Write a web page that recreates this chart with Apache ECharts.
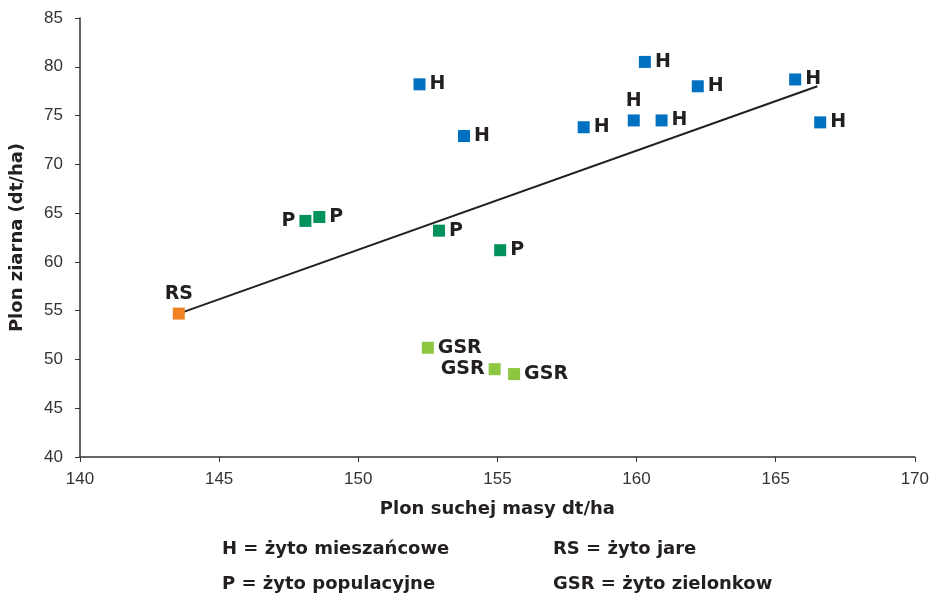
<!DOCTYPE html>
<html><head><meta charset="utf-8">
<script src="https://cdn.jsdelivr.net/npm/echarts@6/dist/echarts.min.js"></script>
<style>html,body{margin:0;padding:0;background:#fff}#c{width:932px;height:597px}</style>
</head><body><div id="c"></div>
<script>
// H = żyto mieszańcowe
const hX = [152.2, 153.8, 160.3, 162.2, 165.7, 166.6, 158.1, 159.9, 160.9];
const hY = [78.2, 72.9, 80.5, 78.0, 78.7, 74.3, 73.8, 74.5, 74.5];
const hPos = ['right','right','right','right','right','right','right','top','right'];
// P = żyto populacyjne
const pX = [148.1, 148.6, 152.9, 155.1];
const pY = [64.2, 64.6, 63.2, 61.2];
const pPos = ['left','right','right','right'];
// RS = żyto jare
const rsX = [143.55];
const rsY = [54.7];
const rsPos = ['top'];
// GSR = żyto zielonkowe
const gX = [152.5, 154.9, 155.6];
const gY = [51.2, 49.0, 48.5];
const gPos = ['right','left','right'];
// trend line endpoints
const trendX = [143.55, 166.5];
const trendY = [54.7, 78.0];

const xTicks = [140,145,150,155,160,165,170];
const yTicks = [40,45,50,55,60,65,70,75,80,85];

const legendLines = [
  ['H = żyto mieszańcowe', 'RS = żyto jare'],
  ['P = żyto populacyjne', 'GSR = żyto zielonkow']
];

const BOLD = '"DejaVu Sans", sans-serif';
const REG = '"Liberation Sans", Arial, sans-serif';
const TXT = '#231f20';

function mk(xs, ys, pos, name, tag, color) {
  return {
    type: 'scatter', name: name, symbol: 'rect', symbolSize: 12,
    itemStyle: { color: color, opacity: 1 },
    data: xs.map((x, i) => ({
      value: [x, ys[i]],
      label: { position: pos[i] }
    })),
    label: {
      show: true, formatter: tag, color: TXT, fontFamily: BOLD,
      fontWeight: 'bold', fontSize: 19, distance: 4
    },
    z: 3
  };
}

const chart = echarts.init(document.getElementById('c'), null, { renderer: 'canvas' });
const graphics = [];
legendLines.forEach((row, r) => {
  graphics.push({ type: 'text', left: 222, top: 540 + r * 35,
    style: { text: row[0], font: 'bold 18px ' + BOLD, fill: TXT } });
  graphics.push({ type: 'text', left: 553, top: 540 + r * 35,
    style: { text: row[1], font: 'bold 18px ' + BOLD, fill: TXT } });
});

chart.setOption({
  animation: false,
  grid: { left: 80, right: 15, top: 18, bottom: 140 },
  xAxis: {
    type: 'value', min: xTicks[0], max: xTicks[xTicks.length-1], interval: 5,
    name: 'Plon suchej masy dt/ha', nameLocation: 'middle', nameGap: 43,
    nameTextStyle: { fontFamily: BOLD, fontWeight: 'bold', fontSize: 18, color: TXT },
    axisLine: { lineStyle: { color: '#333', width: 1.5 } },
    axisTick: { show: true, length: 5, lineStyle: { color: '#333' } },
    axisLabel: { fontFamily: REG, fontSize: 17, color: '#333', margin: 14 },
    splitLine: { show: false }
  },
  yAxis: {
    type: 'value', min: yTicks[0], max: yTicks[yTicks.length-1], interval: 5,
    name: 'Plon ziarna (dt/ha)', nameLocation: 'middle', nameGap: 54,
    nameTextStyle: { fontFamily: BOLD, fontWeight: 'bold', fontSize: 18, color: TXT },
    axisLine: { show: true, lineStyle: { color: '#333', width: 1.5 } },
    axisTick: { show: true, length: 5, lineStyle: { color: '#333' } },
    axisLabel: { fontFamily: REG, fontSize: 17, color: '#333', margin: 17 },
    splitLine: { show: false }
  },
  series: [
    {
      type: 'line', data: trendX.map((x, i) => [x, trendY[i]]),
      symbol: 'none', lineStyle: { color: '#231f20', width: 2 }, z: 2, silent: true
    },
    mk(hX, hY, hPos, 'H', 'H', '#0070c0'),
    mk(pX, pY, pPos, 'P', 'P', '#00925a'),
    mk(rsX, rsY, rsPos, 'RS', 'RS', '#f08222'),
    mk(gX, gY, gPos, 'GSR', 'GSR', '#8dc63f')
  ],
  graphic: graphics
});
</script></body></html>
